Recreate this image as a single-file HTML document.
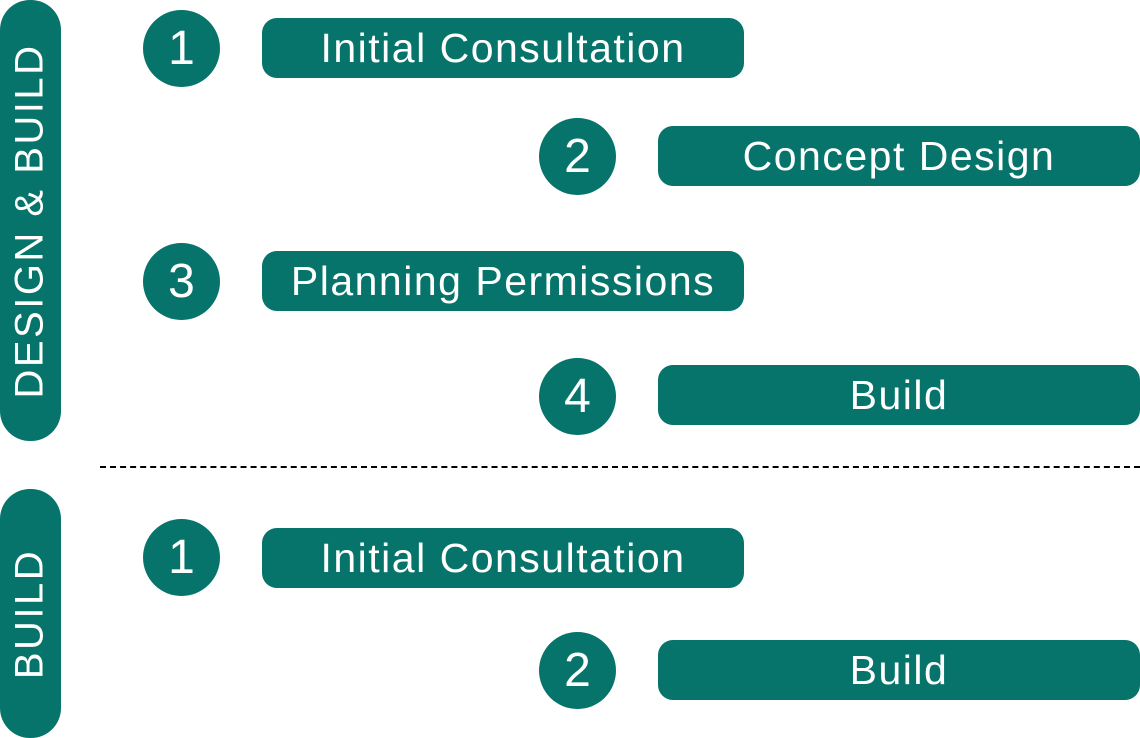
<!DOCTYPE html>
<html><head><style>
body{margin:0;width:1140px;height:738px;background:#fff;position:relative;overflow:hidden;font-family:"Liberation Sans",Arial,sans-serif;}
.bar{position:absolute;left:0;width:61px;background:#06746a;border-radius:30px;}
.vt{position:absolute;left:30px;color:#fff;font-size:40px;letter-spacing:2.5px;white-space:nowrap;transform:translate(-50%,-50%) rotate(-90deg);}
.c{position:absolute;width:77px;height:77px;border-radius:50%;background:#06746a;color:#fff;font-size:48px;line-height:77px;text-align:center;}
.p{position:absolute;width:482px;height:60px;border-radius:15px;background:#06746a;color:#fff;font-size:41px;letter-spacing:1.5px;line-height:60px;text-align:center;}
.dash{position:absolute;left:100px;top:466px;width:1040px;border-top:2px dashed #000;}
</style></head><body>
<div class="bar" style="top:0;height:441px"></div>
<div class="vt" style="top:221px">DESIGN &amp; BUILD</div>
<div class="bar" style="top:489px;height:249px"></div>
<div class="vt" style="top:614px">BUILD</div>

<div class="c" style="left:143px;top:10px">1</div>
<div class="p" style="left:262px;top:18px">Initial Consultation</div>
<div class="c" style="left:539px;top:118px">2</div>
<div class="p" style="left:658px;top:126px">Concept Design</div>
<div class="c" style="left:143px;top:243px">3</div>
<div class="p" style="left:262px;top:251px">Planning Permissions</div>
<div class="c" style="left:539px;top:358px">4</div>
<div class="p" style="left:658px;top:365px">Build</div>

<div class="dash"></div>

<div class="c" style="left:143px;top:519px">1</div>
<div class="p" style="left:262px;top:528px">Initial Consultation</div>
<div class="c" style="left:539px;top:632px">2</div>
<div class="p" style="left:658px;top:640px">Build</div>
</body></html>
